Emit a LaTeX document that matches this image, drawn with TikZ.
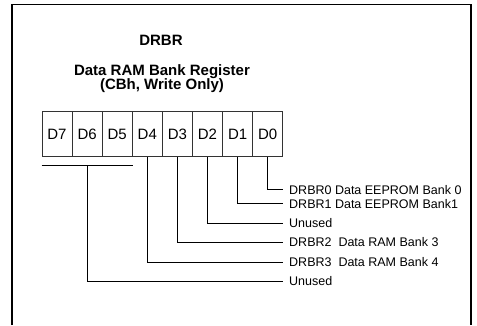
\documentclass[tikz,border=0pt]{standalone}
\usepackage{fontspec}
\setmainfont{Liberation Sans}
\begin{document}
\begin{tikzpicture}[x=1pt,y=-1pt,
  bitbox/.style={draw=black!80,line width=0.6pt,minimum width=30.1pt,minimum height=45.5pt,inner sep=0pt,
    font=\fontsize{15}{15}\selectfont},
  lbl/.style={anchor=west,inner sep=0pt,inner xsep=6pt,text height=9pt,text depth=0pt,
    font=\fontsize{12.5}{12.5}\selectfont},
  ttl/.style={inner sep=0pt,font=\bfseries\fontsize{15}{15}\selectfont},
  conn/.style={line width=0.8pt}]
\useasboundingbox (0,0) rectangle (477,325);
\draw[line width=1.2pt] (12,325) -- (12,4.5) -- (471,4.5) -- (471,325);
\node[ttl] (t1) at (161,40.5) {DRBR};
\node[ttl] (t2) at (162,72) {Data RAM Bank Register};
\node[ttl] (t3) at (162,86) {(CBh, Write Only)};
\foreach \i/\x in {7/57,6/87.1,5/117.2,4/147.3,3/177.4,2/207.5,1/237.6,0/267.7}
  \node[bitbox] (b\i) at (\x,134) {D\i};
\node[lbl] (l0) at (283,189.5) {DRBR0 Data EEPROM Bank 0};
\node[lbl] (l1) at (283,203.5) {DRBR1 Data EEPROM Bank1};
\node[lbl] (l2) at (283,223) {Unused};
\node[lbl] (l3) at (283,242) {DRBR2\ \ Data RAM Bank 3};
\node[lbl] (l4) at (283,262) {DRBR3\ \ Data RAM Bank 4};
\node[lbl] (l5) at (283,281) {Unused};
\path (b7.south west) ++(0,8) coordinate (ga);
\path (b5.south east) ++(0,8) coordinate (gb);
\draw[conn] (ga) -- (gb);
\draw[conn] (b0.south) |- (l0.west);
\draw[conn] (b1.south) |- (l1.west);
\draw[conn] (b2.south) |- (l2.west);
\draw[conn] (b3.south) |- (l3.west);
\draw[conn] (b4.south) |- (l4.west);
\draw[conn] (b6.south |- ga) |- (l5.west);
\end{tikzpicture}
\end{document}
